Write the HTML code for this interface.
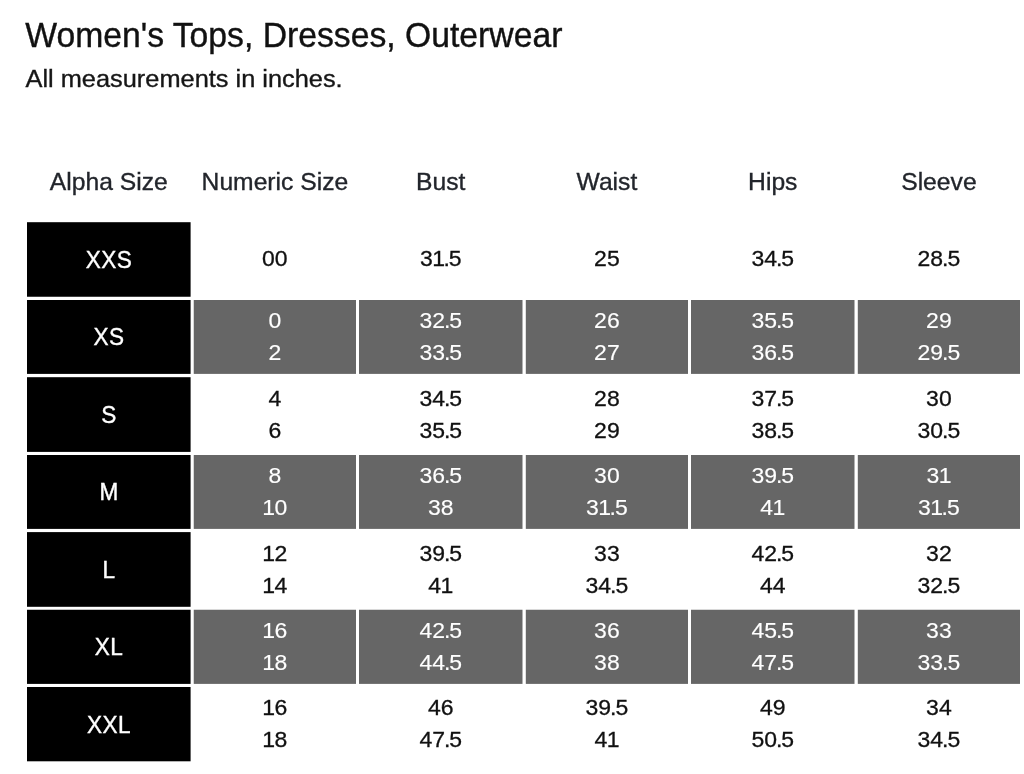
<!DOCTYPE html>
<html lang="en"><head><meta charset="utf-8"><title>Women's Tops, Dresses, Outerwear</title>
<style>
html,body{margin:0;padding:0;background:#fff;}
body{width:1024px;height:774px;overflow:hidden;}
svg{display:block;}
text{font-family:"Liberation Sans",Arial,sans-serif;}
.title{font-size:35.2px;letter-spacing:0px;fill:#111;stroke:#111;stroke-width:0.4px;}
.sub{font-size:24px;letter-spacing:0px;fill:#161616;stroke:#161616;stroke-width:0.35px;}
.head{font-size:24.8px;letter-spacing:0px;fill:#22252b;stroke:#22252b;stroke-width:0.35px;text-anchor:middle;}
.alpha{font-size:24.3px;letter-spacing:0.4px;fill:#fff;stroke:#fff;stroke-width:0.4px;text-anchor:middle;}
.d{font-size:21.9px;letter-spacing:0px;fill:#111;stroke:#111;stroke-width:0.3px;text-anchor:middle;}
.w{fill:#fff;stroke:#fff;stroke-width:0.15px;}
.k{fill:#000;}
.g{fill:#666;}
</style></head><body>
<svg width="1024" height="774" viewBox="0 0 1024 774">
<rect x="0" y="0" width="1024" height="774" fill="#fff"/>
<text class="title" transform="translate(25.20 47.20) scale(0.9580 1)">Women's Tops, Dresses, Outerwear</text>
<text class="sub" transform="translate(25.50 87.00) scale(1.0570 1)">All measurements in inches.</text>
<text class="head" transform="translate(108.80 189.60) scale(0.9950 1)">Alpha Size</text>
<text class="head" transform="translate(274.88 189.60) scale(0.9950 1)">Numeric Size</text>
<text class="head" transform="translate(440.75 189.60) scale(0.9950 1)">Bust</text>
<text class="head" transform="translate(606.90 189.60) scale(0.9950 1)">Waist</text>
<text class="head" transform="translate(772.75 189.60) scale(0.9950 1)">Hips</text>
<text class="head" transform="translate(938.90 189.60) scale(0.9950 1)">Sleeve</text>
<rect class="k" x="27.00" y="222.20" width="163.60" height="74.55"/>
<text class="alpha" transform="translate(109.00 267.83) scale(0.9300 1)">XXS</text>
<text class="d" transform="translate(274.88 266.08) scale(1.0500 1)">00</text>
<text class="d" transform="translate(440.75 266.08) scale(1.0500 1)">3<tspan dx="-0.50">1</tspan><tspan dx="-1.50">.</tspan><tspan dx="-1.00">5</tspan></text>
<text class="d" transform="translate(606.90 266.08) scale(1.0500 1)">25</text>
<text class="d" transform="translate(772.75 266.08) scale(1.0500 1)">34<tspan dx="-1.00">.</tspan><tspan dx="-1.00">5</tspan></text>
<text class="d" transform="translate(938.90 266.08) scale(1.0500 1)">28<tspan dx="-1.00">.</tspan><tspan dx="-1.00">5</tspan></text>
<rect class="k" x="27.00" y="300.00" width="163.60" height="73.90"/>
<rect class="g" x="193.75" y="300.00" width="162.25" height="73.90"/>
<rect class="g" x="359.00" y="300.00" width="163.50" height="73.90"/>
<rect class="g" x="525.80" y="300.00" width="162.20" height="73.90"/>
<rect class="g" x="691.00" y="300.00" width="163.50" height="73.90"/>
<rect class="g" x="857.80" y="300.00" width="162.20" height="73.90"/>
<text class="alpha" transform="translate(109.00 345.30) scale(0.9300 1)">XS</text>
<text class="d w" transform="translate(274.88 328.10) scale(1.0500 1)">0</text>
<text class="d w" transform="translate(274.88 360.10) scale(1.0500 1)">2</text>
<text class="d w" transform="translate(440.75 328.10) scale(1.0500 1)">32<tspan dx="-1.00">.</tspan><tspan dx="-1.00">5</tspan></text>
<text class="d w" transform="translate(440.75 360.10) scale(1.0500 1)">33<tspan dx="-1.00">.</tspan><tspan dx="-1.00">5</tspan></text>
<text class="d w" transform="translate(606.90 328.10) scale(1.0500 1)">26</text>
<text class="d w" transform="translate(606.90 360.10) scale(1.0500 1)">27</text>
<text class="d w" transform="translate(772.75 328.10) scale(1.0500 1)">35<tspan dx="-1.00">.</tspan><tspan dx="-1.00">5</tspan></text>
<text class="d w" transform="translate(772.75 360.10) scale(1.0500 1)">36<tspan dx="-1.00">.</tspan><tspan dx="-1.00">5</tspan></text>
<text class="d w" transform="translate(938.90 328.10) scale(1.0500 1)">29</text>
<text class="d w" transform="translate(938.90 360.10) scale(1.0500 1)">29<tspan dx="-1.00">.</tspan><tspan dx="-1.00">5</tspan></text>
<rect class="k" x="27.00" y="377.20" width="163.60" height="74.70"/>
<text class="alpha" transform="translate(109.00 422.90) scale(0.9300 1)">S</text>
<text class="d" transform="translate(274.88 405.70) scale(1.0500 1)">4</text>
<text class="d" transform="translate(274.88 437.70) scale(1.0500 1)">6</text>
<text class="d" transform="translate(440.75 405.70) scale(1.0500 1)">34<tspan dx="-1.00">.</tspan><tspan dx="-1.00">5</tspan></text>
<text class="d" transform="translate(440.75 437.70) scale(1.0500 1)">35<tspan dx="-1.00">.</tspan><tspan dx="-1.00">5</tspan></text>
<text class="d" transform="translate(606.90 405.70) scale(1.0500 1)">28</text>
<text class="d" transform="translate(606.90 437.70) scale(1.0500 1)">29</text>
<text class="d" transform="translate(772.75 405.70) scale(1.0500 1)">37<tspan dx="-1.00">.</tspan><tspan dx="-1.00">5</tspan></text>
<text class="d" transform="translate(772.75 437.70) scale(1.0500 1)">38<tspan dx="-1.00">.</tspan><tspan dx="-1.00">5</tspan></text>
<text class="d" transform="translate(938.90 405.70) scale(1.0500 1)">30</text>
<text class="d" transform="translate(938.90 437.70) scale(1.0500 1)">30<tspan dx="-1.00">.</tspan><tspan dx="-1.00">5</tspan></text>
<rect class="k" x="27.00" y="455.00" width="163.60" height="73.90"/>
<rect class="g" x="193.75" y="455.00" width="162.25" height="73.90"/>
<rect class="g" x="359.00" y="455.00" width="163.50" height="73.90"/>
<rect class="g" x="525.80" y="455.00" width="162.20" height="73.90"/>
<rect class="g" x="691.00" y="455.00" width="163.50" height="73.90"/>
<rect class="g" x="857.80" y="455.00" width="162.20" height="73.90"/>
<text class="alpha" transform="translate(109.00 500.30) scale(0.9300 1)">M</text>
<text class="d w" transform="translate(274.88 483.10) scale(1.0500 1)">8</text>
<text class="d w" transform="translate(274.88 515.10) scale(1.0500 1)">1<tspan dx="-0.50">0</tspan></text>
<text class="d w" transform="translate(440.75 483.10) scale(1.0500 1)">36<tspan dx="-1.00">.</tspan><tspan dx="-1.00">5</tspan></text>
<text class="d w" transform="translate(440.75 515.10) scale(1.0500 1)">38</text>
<text class="d w" transform="translate(606.90 483.10) scale(1.0500 1)">30</text>
<text class="d w" transform="translate(606.90 515.10) scale(1.0500 1)">3<tspan dx="-0.50">1</tspan><tspan dx="-1.50">.</tspan><tspan dx="-1.00">5</tspan></text>
<text class="d w" transform="translate(772.75 483.10) scale(1.0500 1)">39<tspan dx="-1.00">.</tspan><tspan dx="-1.00">5</tspan></text>
<text class="d w" transform="translate(772.75 515.10) scale(1.0500 1)">4<tspan dx="-0.50">1</tspan></text>
<text class="d w" transform="translate(938.90 483.10) scale(1.0500 1)">3<tspan dx="-0.50">1</tspan></text>
<text class="d w" transform="translate(938.90 515.10) scale(1.0500 1)">3<tspan dx="-0.50">1</tspan><tspan dx="-1.50">.</tspan><tspan dx="-1.00">5</tspan></text>
<rect class="k" x="27.00" y="532.10" width="163.60" height="74.70"/>
<text class="alpha" transform="translate(109.00 577.80) scale(0.9300 1)">L</text>
<text class="d" transform="translate(274.88 560.60) scale(1.0500 1)">1<tspan dx="-0.50">2</tspan></text>
<text class="d" transform="translate(274.88 592.60) scale(1.0500 1)">1<tspan dx="-0.50">4</tspan></text>
<text class="d" transform="translate(440.75 560.60) scale(1.0500 1)">39<tspan dx="-1.00">.</tspan><tspan dx="-1.00">5</tspan></text>
<text class="d" transform="translate(440.75 592.60) scale(1.0500 1)">4<tspan dx="-0.50">1</tspan></text>
<text class="d" transform="translate(606.90 560.60) scale(1.0500 1)">33</text>
<text class="d" transform="translate(606.90 592.60) scale(1.0500 1)">34<tspan dx="-1.00">.</tspan><tspan dx="-1.00">5</tspan></text>
<text class="d" transform="translate(772.75 560.60) scale(1.0500 1)">42<tspan dx="-1.00">.</tspan><tspan dx="-1.00">5</tspan></text>
<text class="d" transform="translate(772.75 592.60) scale(1.0500 1)">44</text>
<text class="d" transform="translate(938.90 560.60) scale(1.0500 1)">32</text>
<text class="d" transform="translate(938.90 592.60) scale(1.0500 1)">32<tspan dx="-1.00">.</tspan><tspan dx="-1.00">5</tspan></text>
<rect class="k" x="27.00" y="609.75" width="163.60" height="74.15"/>
<rect class="g" x="193.75" y="609.75" width="162.25" height="74.15"/>
<rect class="g" x="359.00" y="609.75" width="163.50" height="74.15"/>
<rect class="g" x="525.80" y="609.75" width="162.20" height="74.15"/>
<rect class="g" x="691.00" y="609.75" width="163.50" height="74.15"/>
<rect class="g" x="857.80" y="609.75" width="162.20" height="74.15"/>
<text class="alpha" transform="translate(109.00 655.18) scale(0.9300 1)">XL</text>
<text class="d w" transform="translate(274.88 637.98) scale(1.0500 1)">1<tspan dx="-0.50">6</tspan></text>
<text class="d w" transform="translate(274.88 669.98) scale(1.0500 1)">1<tspan dx="-0.50">8</tspan></text>
<text class="d w" transform="translate(440.75 637.98) scale(1.0500 1)">42<tspan dx="-1.00">.</tspan><tspan dx="-1.00">5</tspan></text>
<text class="d w" transform="translate(440.75 669.98) scale(1.0500 1)">44<tspan dx="-1.00">.</tspan><tspan dx="-1.00">5</tspan></text>
<text class="d w" transform="translate(606.90 637.98) scale(1.0500 1)">36</text>
<text class="d w" transform="translate(606.90 669.98) scale(1.0500 1)">38</text>
<text class="d w" transform="translate(772.75 637.98) scale(1.0500 1)">45<tspan dx="-1.00">.</tspan><tspan dx="-1.00">5</tspan></text>
<text class="d w" transform="translate(772.75 669.98) scale(1.0500 1)">47<tspan dx="-1.00">.</tspan><tspan dx="-1.00">5</tspan></text>
<text class="d w" transform="translate(938.90 637.98) scale(1.0500 1)">33</text>
<text class="d w" transform="translate(938.90 669.98) scale(1.0500 1)">33<tspan dx="-1.00">.</tspan><tspan dx="-1.00">5</tspan></text>
<rect class="k" x="27.00" y="687.00" width="163.60" height="74.30"/>
<text class="alpha" transform="translate(109.00 732.50) scale(0.9300 1)">XXL</text>
<text class="d" transform="translate(274.88 715.30) scale(1.0500 1)">1<tspan dx="-0.50">6</tspan></text>
<text class="d" transform="translate(274.88 747.30) scale(1.0500 1)">1<tspan dx="-0.50">8</tspan></text>
<text class="d" transform="translate(440.75 715.30) scale(1.0500 1)">46</text>
<text class="d" transform="translate(440.75 747.30) scale(1.0500 1)">47<tspan dx="-1.00">.</tspan><tspan dx="-1.00">5</tspan></text>
<text class="d" transform="translate(606.90 715.30) scale(1.0500 1)">39<tspan dx="-1.00">.</tspan><tspan dx="-1.00">5</tspan></text>
<text class="d" transform="translate(606.90 747.30) scale(1.0500 1)">4<tspan dx="-0.50">1</tspan></text>
<text class="d" transform="translate(772.75 715.30) scale(1.0500 1)">49</text>
<text class="d" transform="translate(772.75 747.30) scale(1.0500 1)">50<tspan dx="-1.00">.</tspan><tspan dx="-1.00">5</tspan></text>
<text class="d" transform="translate(938.90 715.30) scale(1.0500 1)">34</text>
<text class="d" transform="translate(938.90 747.30) scale(1.0500 1)">34<tspan dx="-1.00">.</tspan><tspan dx="-1.00">5</tspan></text>
</svg>
</body></html>
